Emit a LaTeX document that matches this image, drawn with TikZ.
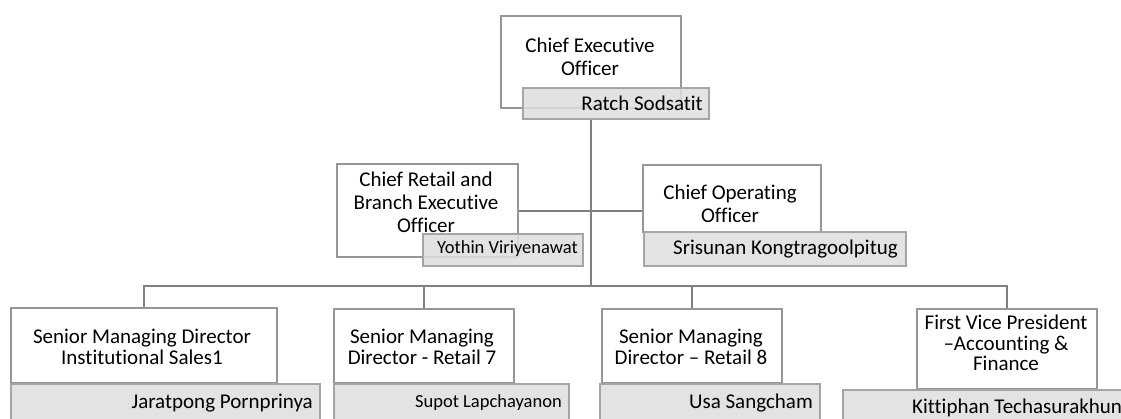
\documentclass[tikz,border=0pt]{standalone}
\usepackage{fontspec}
\setmainfont{Carlito}[Ligatures=NoCommon]
\definecolor{boxline}{RGB}{150,150,150}
\definecolor{conn}{RGB}{128,128,128}
\definecolor{namefill}{RGB}{222,222,222}
\definecolor{nameline}{RGB}{165,165,165}
\begin{document}
\begin{tikzpicture}[x=1pt,y=-1pt,
  rolebox/.style={draw=boxline, line width=2pt, fill=white, inner sep=0pt, anchor=north west},
  namebox/.style={draw=nameline, line width=2pt, fill=namefill, fill opacity=0.85, inner sep=0pt, anchor=north west},
  roletext/.style={align=center, inner sep=0pt, font=\fontsize{21}{23}\selectfont},
  bottext/.style={align=center, inner sep=0pt, font=\fontsize{21}{20.5}\selectfont},
  nametext/.style={inner sep=0pt, anchor=east, font=\fontsize{21}{23}\selectfont},
  smallname/.style={inner sep=0pt, anchor=east, font=\fontsize{18.5}{20}\selectfont},
  link/.style={draw=conn, line width=2.5pt}]
\useasboundingbox (0,0) rectangle (1121,418);
\clip (0,0) rectangle (1121,418);
% boxes
\node[rolebox, minimum width=180pt, minimum height=92pt] (ceo) at (500,15) {};
\node[namebox, minimum width=186pt, minimum height=31pt] (ceon) at (522,87) {};
\node[rolebox, minimum width=181pt, minimum height=93pt] (cr) at (336,163) {};
\node[namebox, minimum width=160pt, minimum height=32pt] (crn) at (422,233) {};
\node[rolebox, minimum width=178pt, minimum height=67pt] (coo) at (642,164) {};
\node[namebox, minimum width=262pt, minimum height=34pt] (coon) at (643,231) {};
\node[rolebox, minimum width=266pt, minimum height=75pt] (b1) at (10,307) {};
\node[namebox, minimum width=309pt, minimum height=45pt] (b1n) at (10,383) {};
\node[rolebox, minimum width=180pt, minimum height=74pt] (b2) at (333,308) {};
\node[namebox, minimum width=235pt, minimum height=45pt] (b2n) at (333,383) {};
\node[rolebox, minimum width=180pt, minimum height=74pt] (b3) at (601,308) {};
\node[namebox, minimum width=220pt, minimum height=45pt] (b3n) at (599,383) {};
\node[rolebox, minimum width=180pt, minimum height=80pt] (b4) at (916,308) {};
\node[namebox, minimum width=300pt, minimum height=40pt] (b4n) at (842,389) {};
% texts
\node[roletext] (ceot) at (590,57) {Chief Executive\\Officer};
\node[nametext] (ceont) at (703,103) {Ratch Sodsatit};
\node[roletext] (crt) at (426,202) {Chief Retail and\\Branch Executive\\Officer};
\node[smallname] (crnt) at (578,249) {Yothin Viriyenawat};
\node[roletext] (coot) at (730,204) {Chief Operating\\Officer};
\node[nametext] (coont) at (898,249) {Srisunan Kongtragoolpitug};
\node[bottext] (b1t) at (142,347) {Senior Managing Director\\Institutional Sales1};
\node[nametext] (b1nt) at (313,403) {Jaratpong Pornprinya};
\node[bottext] (b2t) at (422,347) {Senior Managing\\Director - Retail 7};
\node[smallname] (b2nt) at (562,403) {Supot Lapchayanon};
\node[bottext] (b3t) at (691,347) {Senior Managing\\Director -- Retail 8};
\node[nametext] (b3nt) at (813,403) {Usa Sangcham};
\node[bottext] (b4t) at (1006,343) {First Vice President\\--Accounting \&\\Finance};
\node[nametext, anchor=west] (b4nt) at (912,408) {Kittiphan Techasurakhun};
% connectors
\coordinate (bus) at (590,286);
\coordinate (mid) at (589,211);
\draw[link] (ceo.south |- ceon.south) -- (ceo.south |- bus);
\draw[link] (cr.east |- mid) -- (coo.west |- mid);
\draw[link] (b1.north) -- (b1.north |- bus) -- (b4.north |- bus) -- (b4.north);
\draw[link] (b2.north) -- (b2.north |- bus);
\draw[link] (b3.north) -- (b3.north |- bus);
\end{tikzpicture}
\end{document}
